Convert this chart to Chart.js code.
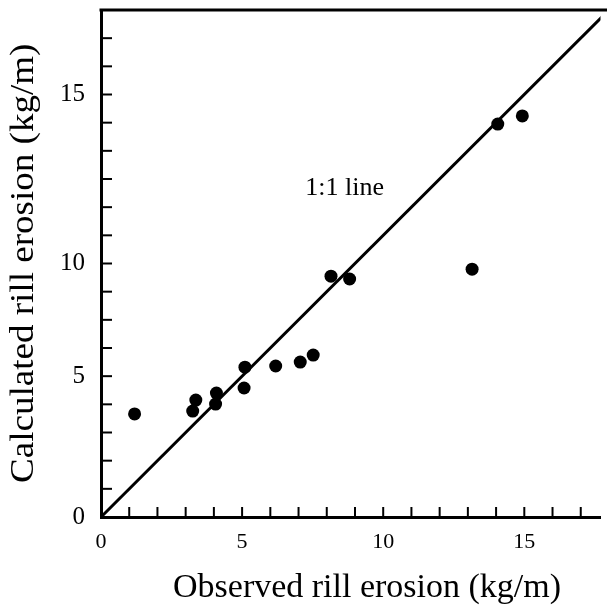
<!DOCTYPE html>
<html>
<head>
<meta charset="utf-8">
<script src="https://cdn.jsdelivr.net/npm/chart.js@4.4.0/dist/chart.umd.min.js"></script>
<style>
  html, body { margin: 0; padding: 0; background: #fff; }
  #wrap { width: 607px; height: 607px; }
</style>
</head>
<body>
<div id="wrap"><canvas id="erosionChart"></canvas></div>
<script>
// observed vs calculated rill erosion (kg/m)
const observed   = [1.19, 3.25, 3.36, 4.06, 4.09, 5.07, 5.10, 6.19, 7.06, 7.52, 8.15, 8.81, 13.15, 14.06, 14.93];
const calculated = [3.66, 3.76, 4.15, 4.01, 4.40, 4.58, 5.32, 5.36, 5.50, 5.75, 8.55, 8.45, 8.80, 13.95, 14.24];
const oneToOne = [0, 18];

const xTickValues = [0, 5, 10, 15];
const xTickLabels = ['0', '5', '10', '15'];
// in the original figure the "10" label sits on the 9th minor tick
const yTickValues = [0, 5, 9, 15];
const yTickLabels = ['0', '5', '10', '15'];
const minorTicks = [1, 2, 3, 4, 5, 6, 7, 8, 9, 10, 11, 12, 13, 14, 15, 16, 17];

const xTitle = 'Observed rill erosion (kg/m)';
const yTitle = 'Calculated rill erosion (kg/m)';
const lineLabel = '1:1 line';
const lineLabelAt = [7.24, 11.43];

const serif = "'Liberation Serif', 'Times New Roman', serif";

// frame top, inward ticks, titles and the 1:1 note
const decorations = {
    id: 'decorations',
    afterDraw(chart) {
        const ctx = chart.ctx;
        const area = chart.chartArea;
        const xs = chart.scales.x;
        const ys = chart.scales.y;
        ctx.save();
        ctx.strokeStyle = '#000';
        ctx.lineWidth = 3;
        ctx.beginPath();
        ctx.moveTo(area.left - 1.5, area.top);
        ctx.lineTo(chart.width, area.top);
        ctx.stroke();

        ctx.lineWidth = 2;
        minorTicks.forEach(v => {
            const px = xs.getPixelForValue(v);
            if (px < area.right) {
                ctx.beginPath();
                ctx.moveTo(px, area.bottom);
                ctx.lineTo(px, area.bottom - 10);
                ctx.stroke();
            }
            const py = ys.getPixelForValue(v);
            if (py > area.top) {
                ctx.beginPath();
                ctx.moveTo(area.left, py);
                ctx.lineTo(area.left + 11, py);
                ctx.stroke();
            }
        });

        ctx.fillStyle = '#000';
        ctx.textBaseline = 'alphabetic';
        ctx.textAlign = 'left';
        ctx.font = '26px ' + serif;
        ctx.fillText(lineLabel, xs.getPixelForValue(lineLabelAt[0]), ys.getPixelForValue(lineLabelAt[1]));

        ctx.font = '34px ' + serif;
        ctx.fillText(xTitle, 173, 597);

        ctx.translate(33, 483);
        ctx.rotate(-Math.PI / 2);
        ctx.scale(1.09, 1);
        ctx.fillText(yTitle, 0, 0);
        ctx.restore();
    }
};

const ctx = document.getElementById('erosionChart').getContext('2d');
new Chart(ctx, {
    type: 'scatter',
    data: {
        datasets: [
            {
                label: 'sites',
                data: observed.map((v, i) => ({ x: v, y: calculated[i] })),
                pointRadius: 6.5,
                pointBackgroundColor: '#000',
                pointBorderWidth: 0
            },
            {
                label: '1:1',
                type: 'line',
                data: oneToOne.map(v => ({ x: v, y: v })),
                borderColor: '#000',
                borderWidth: 3,
                pointRadius: 0,
                fill: false
            }
        ]
    },
    options: {
        responsive: true,
        maintainAspectRatio: false,
        animation: false,
        layout: { padding: { top: 10, right: 0, left: 0, bottom: 0 } },
        plugins: {
            legend: { display: false },
            tooltip: { enabled: false }
        },
        scales: {
            x: {
                type: 'linear',
                min: 0,
                max: 17.7,
                grid: { display: false, drawTicks: false },
                border: { color: '#000', width: 3 },
                ticks: {
                    color: '#000',
                    font: { family: serif, size: 22 },
                    padding: 12,
                    maxRotation: 0,
                    autoSkip: false,
                    callback: v => xTickLabels[xTickValues.indexOf(v)]
                },
                afterBuildTicks: s => { s.ticks = xTickValues.map(v => ({ value: v })); },
                afterFit: s => { s.height = 90; s.paddingLeft = 0; s.paddingRight = 0; }
            },
            y: {
                type: 'linear',
                min: 0,
                max: 18,
                grid: { display: false, drawTicks: false },
                border: { color: '#000', width: 3 },
                ticks: {
                    color: '#000',
                    font: { family: serif, size: 25 },
                    padding: 16,
                    autoSkip: false,
                    callback: v => yTickLabels[yTickValues.indexOf(v)]
                },
                afterBuildTicks: s => { s.ticks = yTickValues.map(v => ({ value: v })); },
                afterFit: s => { s.width = 101; s.paddingTop = 0; s.paddingBottom = 0; }
            }
        }
    },
    plugins: [decorations]
});
</script>
</body>
</html>
